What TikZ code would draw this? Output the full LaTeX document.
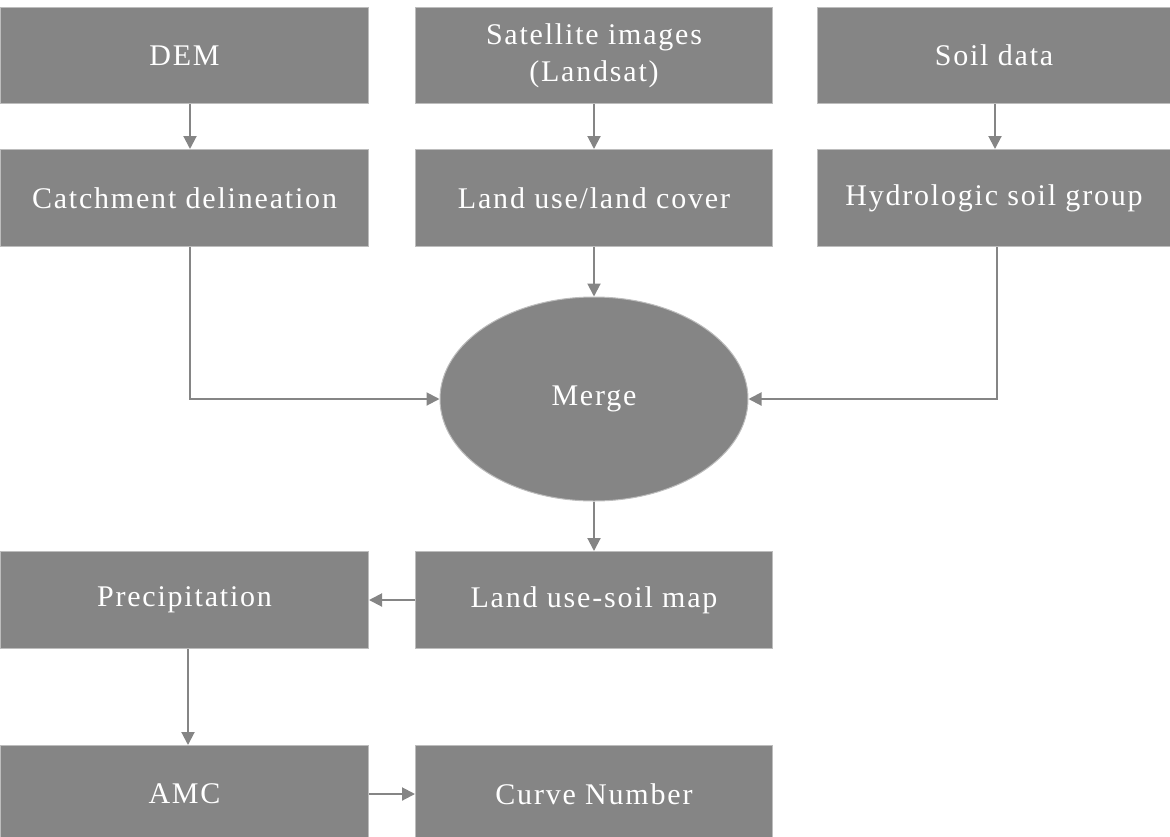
\documentclass[tikz,border=0pt]{standalone}
\usepackage{fontspec}
\setmainfont{Liberation Serif}[LetterSpace=6]
\usetikzlibrary{shapes.geometric,arrows.meta,positioning}
\definecolor{boxgray}{HTML}{858585}
\definecolor{edgegray}{HTML}{BDBDBD}
\tikzset{
  box/.style={draw=edgegray, line width=1pt, fill=boxgray, text=white, minimum width=#1, minimum height=97pt, inner sep=0pt, align=center, font=\fontsize{30}{37}\selectfont, anchor=north west},
  box/.default=354pt,
  oval/.style={ellipse, draw=edgegray, line width=1pt, fill=boxgray, text=white, minimum width=308pt, minimum height=204pt, inner sep=0pt, font=\fontsize{30}{37}\selectfont},
  conn/.style={draw=boxgray, line width=2pt, -{Triangle[length=13pt,width=13pt]}},
}
\begin{document}
\begin{tikzpicture}[x=1pt,y=-1pt]
\useasboundingbox (0,0) rectangle (1170,836);
\node[box=368pt, minimum height=96pt] (dem) at (0,7) {DEM};
\node[box=357pt, minimum height=96pt] (sat) at (415,7) {Satellite images\\(Landsat)};
\node[box=353pt, minimum height=96pt] (soil) at (817,7) {Soil data};
\node[box=368pt] (catch) at (0,149) {Catchment delineation};
\node[box=357pt] (lulc) at (415,149) {Land use/land cover};
\node[box=353pt] (hsg) at (817,149) {Hydrologic soil group};
\node[oval] (merge) at (594,399) {Merge};
\node[box=357pt] (lusm) at (415,551) {Land use-soil map};
\node[box=368pt] (prec) at (0,551) {Precipitation};
\node[box=368pt] (amc) at (0,745) {AMC};
\node[box=357pt] (cn) at (415,745) {Curve Number};
\draw[conn] (dem.south -| 190,0) -- (catch.north -| 190,0);
\draw[conn] (sat) -- (lulc);
\draw[conn] (soil.south -| 995,0) -- (hsg.north -| 995,0);
\draw[conn] (lulc) -- (merge);
\draw[conn] (catch.south -| 190,0) |- (merge.west);
\draw[conn] (hsg.south -| 997,0) |- (merge.east);
\draw[conn] (merge) -- (lusm);
\draw[conn] (lusm) -- (prec);
\draw[conn] (prec.south -| 188,0) -- (amc.north -| 188,0);
\draw[conn] (amc) -- (cn);
\end{tikzpicture}
\end{document}
